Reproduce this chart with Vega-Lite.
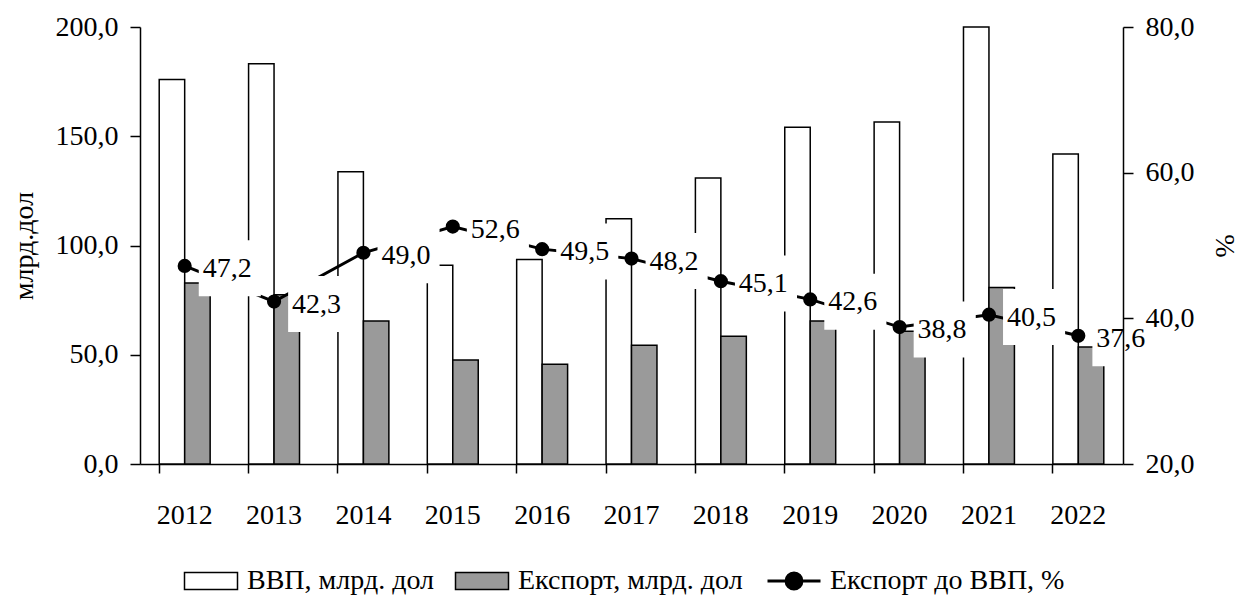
{
  "$schema": "https://vega.github.io/schema/vega-lite/v6.json",
  "width": 983,
  "height": 437,
  "autosize": {"type": "none"},
  "padding": {"left": 140, "top": 27, "right": 117, "bottom": 135},
  "background": "white",
  "config": {
    "locale": {"number": {"decimal": ",", "thousands": " ", "grouping": [3], "currency": ["", ""]}},
    "font": "Liberation Serif",
    "view": {"stroke": null},
    "axis": {
      "labelFont": "Liberation Serif", "labelFontSize": 28, "labelColor": "black",
      "titleFont": "Liberation Serif", "titleFontSize": 28, "titleFontWeight": "normal", "titleColor": "black",
      "domainColor": "black", "tickColor": "black", "domainWidth": 1.5, "tickWidth": 1.5, "grid": false
    }
  },
  "datasets": {
    "bars": [
      {"year": 2012, "series": "ВВП, млрд. дол", "value": 176.0},
      {"year": 2013, "series": "ВВП, млрд. дол", "value": 183.2},
      {"year": 2014, "series": "ВВП, млрд. дол", "value": 133.7},
      {"year": 2015, "series": "ВВП, млрд. дол", "value": 91.0},
      {"year": 2016, "series": "ВВП, млрд. дол", "value": 93.6},
      {"year": 2017, "series": "ВВП, млрд. дол", "value": 112.2},
      {"year": 2018, "series": "ВВП, млрд. дол", "value": 130.9},
      {"year": 2019, "series": "ВВП, млрд. дол", "value": 154.1},
      {"year": 2020, "series": "ВВП, млрд. дол", "value": 156.5},
      {"year": 2021, "series": "ВВП, млрд. дол", "value": 200.0},
      {"year": 2022, "series": "ВВП, млрд. дол", "value": 141.9},
      {"year": 2012, "series": "Експорт, млрд. дол", "value": 82.8},
      {"year": 2013, "series": "Експорт, млрд. дол", "value": 77.5},
      {"year": 2014, "series": "Експорт, млрд. дол", "value": 65.5},
      {"year": 2015, "series": "Експорт, млрд. дол", "value": 47.6},
      {"year": 2016, "series": "Експорт, млрд. дол", "value": 45.7},
      {"year": 2017, "series": "Експорт, млрд. дол", "value": 54.4},
      {"year": 2018, "series": "Експорт, млрд. дол", "value": 58.5},
      {"year": 2019, "series": "Експорт, млрд. дол", "value": 65.5},
      {"year": 2020, "series": "Експорт, млрд. дол", "value": 60.7},
      {"year": 2021, "series": "Експорт, млрд. дол", "value": 80.8},
      {"year": 2022, "series": "Експорт, млрд. дол", "value": 53.6}
    ],
    "ratio": [
      {"year": 2012, "ratio": 47.2},
      {"year": 2013, "ratio": 42.3},
      {"year": 2014, "ratio": 49.0},
      {"year": 2015, "ratio": 52.6},
      {"year": 2016, "ratio": 49.5},
      {"year": 2017, "ratio": 48.2},
      {"year": 2018, "ratio": 45.1},
      {"year": 2019, "ratio": 42.6},
      {"year": 2020, "ratio": 38.8},
      {"year": 2021, "ratio": 40.5},
      {"year": 2022, "ratio": 37.6}
    ]
  },
  "layer": [
    {
      "layer": [
        {
          "data": {"name": "bars"},
          "mark": {"type": "bar", "stroke": "black", "strokeWidth": 1.5, "strokeJoin": "miter"},
          "encoding": {
            "x": {
              "field": "year", "type": "ordinal",
              "scale": {"paddingInner": 0.43, "paddingOuter": 0.215},
              "axis": {"title": null, "labelAngle": 0, "tickSize": 9, "labelPadding": 28, "bandPosition": 0}
            },
            "xOffset": {
              "field": "series", "type": "nominal",
              "sort": ["ВВП, млрд. дол", "Експорт, млрд. дол"],
              "scale": {"paddingInner": 0, "paddingOuter": 0}
            },
            "y": {
              "field": "value", "type": "quantitative",
              "scale": {"domain": [0, 200], "nice": false},
              "axis": {"orient": "left", "values": [0, 50, 100, 150, 200], "format": ".1f", "tickSize": 10, "labelPadding": 12, "title": "млрд.дол", "titlePadding": 17}
            },
            "fill": {
              "condition": {"test": "datum.series === 'ВВП, млрд. дол'", "value": "white"},
              "value": "#9a9a9a"
            }
          }
        },
        {
          "data": {"name": "bars"},
          "mark": {"type": "point", "filled": true, "opacity": 0},
          "encoding": {
            "x": {"field": "year", "type": "ordinal"},
            "y": {"field": "value", "type": "quantitative"},
            "fill": {
              "field": "series", "type": "nominal",
              "scale": {"domain": ["ВВП, млрд. дол", "Експорт, млрд. дол", "Експорт до ВВП, %"], "range": ["white", "#9a9a9a", "black"]},
              "legend": {
                "title": null, "orient": "none", "direction": "horizontal", "legendX": 57, "legendY": 540,
                "symbolSize": 2809, "symbolOpacity": 1, "symbolStrokeColor": "black", "symbolStrokeWidth": 1.5,
                "labelOffset": 22, "columnPadding": 18, "labelFontSize": 28, "labelFont": "Liberation Serif", "labelColor": "black", "labelLimit": 0,
                "encode": {"symbols": {"update": {"opacity": {"value": 1}, "stroke": {"value": "black"}, "strokeWidth": {"signal": "datum.value === 'Експорт до ВВП, %' ? 3 : 1.5"}}}}
              }
            },
            "shape": {
              "field": "series", "type": "nominal",
              "scale": {"domain": ["ВВП, млрд. дол", "Експорт, млрд. дол", "Експорт до ВВП, %"], "range": ["M-1,-0.32H1V0.32H-1Z", "M-1,-0.32H1V0.32H-1Z", "M-1,0H1M0.3,0A0.3,0.3,0,1,1,-0.3,0A0.3,0.3,0,1,1,0.3,0Z"]},
              "legend": {
                "title": null, "orient": "none", "direction": "horizontal", "legendX": 57, "legendY": 540,
                "symbolSize": 2809, "symbolOpacity": 1, "symbolStrokeColor": "black", "symbolStrokeWidth": 1.5,
                "labelOffset": 22, "columnPadding": 18, "labelFontSize": 28, "labelFont": "Liberation Serif", "labelColor": "black", "labelLimit": 0,
                "encode": {"symbols": {"update": {"opacity": {"value": 1}, "stroke": {"value": "black"}, "strokeWidth": {"signal": "datum.value === 'Експорт до ВВП, %' ? 3 : 1.5"}}}}
              }
            }
          }
        }
      ]
    },
    {
      "data": {"name": "ratio"},
      "encoding": {
        "x": {"field": "year", "type": "ordinal"},
        "y": {
          "field": "ratio", "type": "quantitative",
          "scale": {"domain": [20, 80], "nice": false, "zero": false},
          "axis": {"orient": "right", "values": [20, 40, 60, 80], "format": ".1f", "tickSize": 10, "labelPadding": 12, "title": "%", "titlePadding": 15, "zindex": 1}
        }
      },
      "layer": [
        {"mark": {"type": "line", "color": "black", "strokeWidth": 3}},
        {"mark": {"type": "point", "shape": "M0.44,-0.8H2.38V0.95H0.44Z", "size": 4096, "filled": true, "fill": "white", "opacity": 1, "strokeWidth": 0}},
        {"mark": {"type": "point", "shape": "circle", "size": 200, "filled": true, "color": "black", "opacity": 1}},
        {
          "mark": {"type": "text", "align": "left", "baseline": "middle", "dx": 18, "dy": 3, "fontSize": 28, "font": "Liberation Serif", "color": "black"},
          "encoding": {"text": {"field": "ratio", "type": "quantitative", "format": ".1f"}}
        }
      ]
    }
  ],
  "resolve": {"scale": {"y": "independent"}}
}
